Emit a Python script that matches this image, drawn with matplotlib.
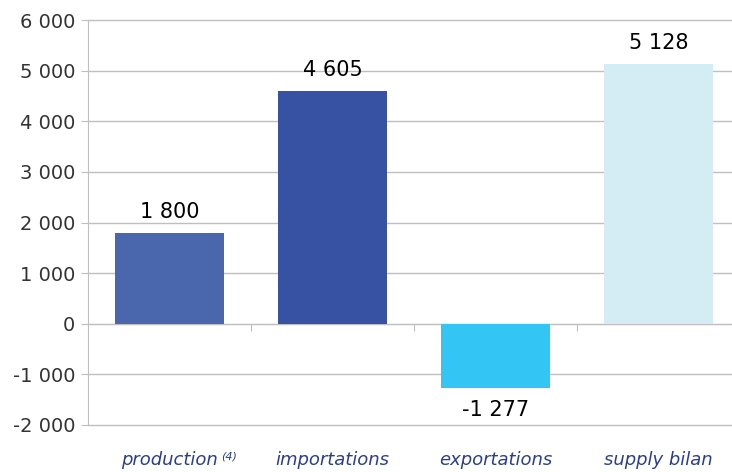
import numpy as np
import matplotlib.pyplot as plt

categories = ["production", "importations", "exportations", "supply bilan"]
values = [1800, 4605, -1277, 5128]
value_labels = ["1 800", "4 605", "-1 277", "5 128"]
bar_colors = ["#4a67ae", "#3752a3", "#33c6f4", "#d4ecf3"]
y_ticks = [-2000, -1000, 0, 1000, 2000, 3000, 4000, 5000, 6000]
y_tick_labels = ["-2 000", "-1 000", "0", "1 000", "2 000", "3 000", "4 000", "5 000", "6 000"]

plt.rcParams['font.family'] = ['DejaVu Sans']

fig = plt.figure(figsize=(7.32, 4.72), dpi=100)
ax = fig.add_axes([88 / 732, 47 / 472, 652 / 732, 405 / 472])

x = np.arange(len(categories))
ax.bar(x, values, width=0.67, color=bar_colors, zorder=2)

ax.set_xlim(-0.5, 3.5)
ax.set_ylim(-2000, 6000)
ax.set_yticks(y_ticks)
ax.set_yticklabels(y_tick_labels, fontsize=14, color="#333333")
ax.tick_params(axis='y', length=5, color="#bfbfbf", pad=4)
ax.grid(axis='y', color="#bfbfbf", linewidth=1, zorder=0)
for gl in ax.yaxis.get_gridlines():
    gl.set_clip_on(False)

for s in ['top', 'right', 'bottom']:
    ax.spines[s].set_visible(False)
ax.spines['left'].set_color("#bfbfbf")

ax.set_xticks(x)
ax.set_xticklabels(categories, fontsize=13, style='italic', color="#2b3d8f")
ax.tick_params(axis='x', length=0, pad=19)

# footnote mark after "production"
ax.annotate("(4)", (0, 0), xycoords=ax.get_xaxis_transform(), xytext=(37, -23),
            textcoords='offset points', ha='left', va='center', fontsize=8,
            style='italic', color="#2b3d8f")

sec = ax.secondary_xaxis(0.25)
sec.set_xticks([0.5, 1.5, 2.5])
sec.set_xticklabels([])
sec.tick_params(axis='x', length=5, color="#bfbfbf", direction='out')
sec.spines['bottom'].set_color("#bfbfbf")

for xi, v, lab in zip(x, values, value_labels):
    if v >= 0:
        ax.annotate(lab, (xi, v), xytext=(0, 8), textcoords='offset points',
                    ha='center', va='bottom', fontsize=15, color="black")
    else:
        ax.annotate(lab, (xi, v), xytext=(0, -8), textcoords='offset points',
                    ha='center', va='top', fontsize=15, color="black")

fig.savefig("out.png", dpi=100)
